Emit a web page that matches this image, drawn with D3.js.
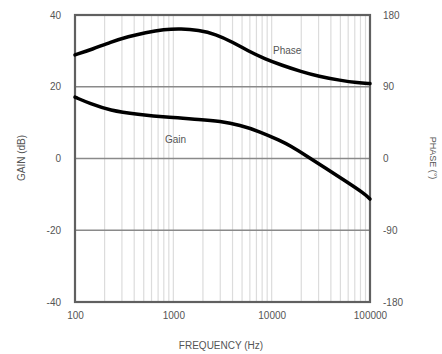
<!DOCTYPE html>
<html>
<head>
<meta charset="utf-8">
<script src="https://cdn.jsdelivr.net/npm/d3@7"></script>
<style>
  html, body { margin: 0; padding: 0; background: #fff; }
  svg { display: block; }
  text { font-family: "Liberation Sans", Arial, sans-serif; fill: #555; }
</style>
</head>
<body>
<svg id="chart" width="442" height="354"></svg>
<script>
// Gain/phase response vs frequency
const gainFreq = [100, 142, 227, 427, 925, 1870, 2980, 4760, 7600, 12160, 15360, 21800, 34800, 55700, 88900, 100000];
const gainDb   = [17.1, 15.3, 13.4, 12.3, 11.4, 10.9, 10.4, 9.3, 7.5, 5.0, 3.6, 1.0, -2.6, -6.2, -9.9, -11.3];

const phaseFreq = [100, 150, 230, 350, 520, 800, 1200, 1800, 2700, 4000, 5750, 8500, 12700, 20000, 30000, 50000, 75000, 100000];
const phaseDeg  = [130, 137, 146, 153, 158, 162, 163, 161, 156, 146, 135, 125, 117, 109, 103, 98, 95, 94];

const freqTicks  = [100, 1000, 10000, 100000];
const gainTicks  = [40, 20, 0, -20, -40];
const phaseTicks = [180, 90, 0, -90, -180];

const margin = { left: 75, top: 15, right: 72, bottom: 52 };
const W = 442, H = 354;
const iw = W - margin.left - margin.right;
const ih = H - margin.top - margin.bottom;

const svg = d3.select("#chart");
const g = svg.append("g").attr("transform", `translate(${margin.left},${margin.top})`);

const x = d3.scaleLog().domain([100, 100000]).range([0, iw]);
const yGain = d3.scaleLinear().domain([-40, 40]).range([ih, 0]);
const yPhase = d3.scaleLinear().domain([-180, 180]).range([ih, 0]);

// minor log gridlines
const minor = [];
for (let d = 100; d < 100000; d *= 10) {
  for (let k = 1; k <= 9; k++) minor.push(d * k);
}
g.append("g").selectAll("line").data(minor.slice(1)).join("line")
  .attr("x1", d => x(d)).attr("x2", d => x(d))
  .attr("y1", 0).attr("y2", ih)
  .attr("stroke", "#dcdcdc").attr("stroke-width", 1.2);

// horizontal gridlines
g.append("g").selectAll("line").data(gainTicks.slice(1, -1)).join("line")
  .attr("x1", 0).attr("x2", iw)
  .attr("y1", d => yGain(d)).attr("y2", d => yGain(d))
  .attr("stroke", "#8a8a8a").attr("stroke-width", 1.5);

// frame
g.append("rect").attr("x", 0).attr("y", 0).attr("width", iw).attr("height", ih)
  .attr("fill", "none").attr("stroke", "#606060").attr("stroke-width", 2.2);

// axes
const leftAxis = d3.axisLeft(yGain).tickValues(gainTicks).tickSize(0).tickPadding(14).tickFormat(d => d);
const rightAxis = d3.axisRight(yPhase).tickValues(phaseTicks).tickSize(0).tickPadding(13).tickFormat(d => d);
const bottomAxis = d3.axisBottom(x).tickValues(freqTicks).tickSize(0).tickPadding(10).tickFormat(d => d);

function styleAxis(sel) {
  sel.select(".domain").remove();
  sel.selectAll("text").attr("font-size", 10).attr("fill", "#555")
    .style("font-family", "'Liberation Sans', Arial, sans-serif");
}
g.append("g").call(leftAxis).call(styleAxis);
g.append("g").attr("transform", `translate(${iw},0)`).call(rightAxis).call(styleAxis);
g.append("g").attr("transform", `translate(0,${ih})`).call(bottomAxis).call(styleAxis);

// curves
const line = (xs, ys, yScale) => d3.line()
  .x((d, i) => x(xs[i])).y((d, i) => yScale(ys[i]))
  .curve(d3.curveBasis)(xs);

g.append("path").attr("d", line(phaseFreq, phaseDeg, yPhase))
  .attr("fill", "none").attr("stroke", "#000").attr("stroke-width", 3.5)
  .attr("stroke-linecap", "round");
g.append("path").attr("d", line(gainFreq, gainDb, yGain))
  .attr("fill", "none").attr("stroke", "#000").attr("stroke-width", 3.5)
  .attr("stroke-linecap", "round");

// curve labels
g.append("text").attr("x", 198).attr("y", 39).attr("font-size", 10).text("Phase");
g.append("text").attr("x", 90).attr("y", 128).attr("font-size", 10).text("Gain");

// axis titles
svg.append("text").attr("x", W / 2).attr("y", 349).attr("text-anchor", "middle")
  .attr("font-size", 10).text("FREQUENCY (Hz)");
svg.append("text").attr("transform", `translate(25,158) rotate(-90)`)
  .attr("text-anchor", "middle").attr("font-size", 10).text("GAIN (dB)");
svg.append("text").attr("transform", `translate(430,158) rotate(90)`)
  .attr("text-anchor", "middle").attr("font-size", 9).attr("fill", "#888").text("PHASE (°)");
</script>
</body>
</html>
